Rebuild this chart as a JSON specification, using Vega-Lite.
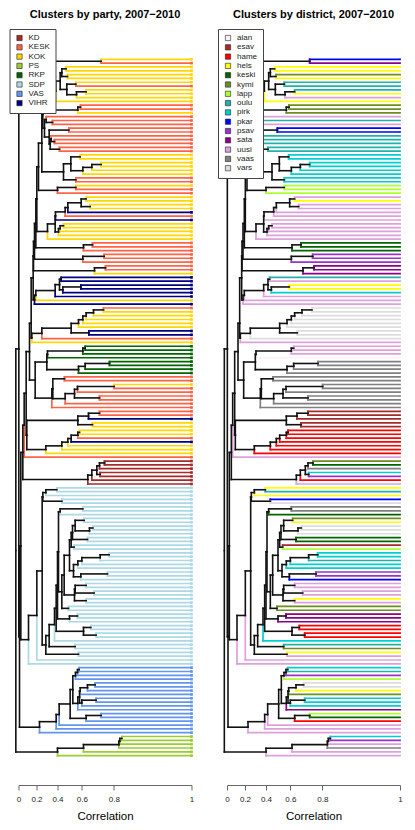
{"$schema":"https://vega.github.io/schema/vega-lite/v6.json","padding":{"left":8.5,"top":8,"right":0,"bottom":0},"background":"white","spacing":22.5,"resolve":{"scale":{"fill":"independent","stroke":"independent"}},
"config":{"view":{"stroke":null},"font":"Liberation Sans","axis":{"labelOverlap":false}},
"datasets":{"leaves":[
{"k":0,"ph":248,"py":0.5,"party":"KOK","district":"pkar"},{"k":1,"ph":248,"py":0.5,"party":"KESK","district":"sata"},
{"k":2,"ph":143,"py":2.5,"party":"KOK","district":"hels"},{"k":3,"ph":143,"py":2.5,"party":"KOK","district":"hels"},
{"k":4,"ph":147,"py":4.5,"party":"KOK","district":"kymi"},{"k":5,"ph":147,"py":4.5,"party":"KOK","district":"hels"},
{"k":6,"ph":172,"py":6.5,"party":"KOK","district":"oulu"},{"k":7,"ph":172,"py":6.5,"party":"KESK","district":"oulu"},
{"k":8,"ph":203,"py":8.5,"party":"KOK","district":"oulu"},{"k":9,"ph":203,"py":8.5,"party":"KOK","district":"hels"},
{"k":10,"ph":174,"py":9.25,"party":"KOK","district":"uusi"},{"k":11,"ph":112,"py":8.34,"party":"KOK","district":"hels"},
{"k":12,"ph":186,"py":12.5,"party":"KESK","district":"kymi"},{"k":13,"ph":186,"py":12.5,"party":"KESK","district":"kymi"},
{"k":14,"ph":178,"py":13.25,"party":"KOK","district":"kymi"},{"k":15,"ph":83,"py":15.75,"party":"KESK","district":"uusi"},
{"k":16,"ph":102,"py":16.5,"party":"KESK","district":"oulu"},{"k":17,"ph":102,"py":16.5,"party":"KESK","district":"uusi"},
{"k":18,"ph":151,"py":18.5,"party":"KESK","district":"pkar"},{"k":19,"ph":151,"py":18.5,"party":"KESK","district":"pkar"},
{"k":20,"ph":98,"py":20.75,"party":"KESK","district":"oulu"},{"k":21,"ph":108,"py":21.5,"party":"KESK","district":"oulu"},
{"k":22,"ph":108,"py":21.5,"party":"KESK","district":"oulu"},{"k":23,"ph":123,"py":23.5,"party":"KESK","district":"oulu"},
{"k":24,"ph":123,"py":23.5,"party":"KESK","district":"oulu"},{"k":25,"ph":185,"py":25.5,"party":"KOK","district":"pirk"},
{"k":26,"ph":185,"py":25.5,"party":"KOK","district":"pirk"},{"k":27,"ph":248,"py":27.5,"party":"KOK","district":"pirk"},
{"k":28,"ph":248,"py":27.5,"party":"KOK","district":"pirk"},{"k":29,"ph":220,"py":28.25,"party":"KOK","district":"pirk"},
{"k":30,"ph":193,"py":29.12,"party":"KOK","district":"pirk"},{"k":31,"ph":172,"py":31.5,"party":"KESK","district":"pirk"},
{"k":32,"ph":172,"py":31.5,"party":"KESK","district":"pirk"},{"k":33,"ph":172,"py":33.5,"party":"KOK","district":"lapp"},
{"k":34,"ph":172,"py":33.5,"party":"KESK","district":"lapp"},{"k":35,"ph":117,"py":34.25,"party":"KESK","district":"lapp"},
{"k":36,"ph":203,"py":36.5,"party":"KOK","district":"uusi"},{"k":37,"ph":203,"py":36.5,"party":"KOK","district":"hels"},
{"k":38,"ph":215,"py":38.5,"party":"KOK","district":"uusi"},{"k":39,"ph":215,"py":38.5,"party":"KOK","district":"uusi"},
{"k":40,"ph":148,"py":38.75,"party":"VIHR","district":"uusi"},{"k":41,"ph":140,"py":39.88,"party":"KESK","district":"uusi"},
{"k":42,"ph":111,"py":40.94,"party":"VIHR","district":"uusi"},{"k":43,"ph":135,"py":43.5,"party":"KOK","district":"uusi"},
{"k":44,"ph":135,"py":43.5,"party":"KOK","district":"uusi"},{"k":45,"ph":125,"py":44.25,"party":"KOK","district":"uusi"},
{"k":46,"ph":120,"py":45.12,"party":"KOK","district":"uusi"},{"k":47,"ph":87,"py":45,"party":"KOK","district":"uusi"},
{"k":48,"ph":222,"py":48.5,"party":"KESK","district":"keski"},{"k":49,"ph":222,"py":48.5,"party":"KESK","district":"keski"},
{"k":50,"ph":195,"py":49.25,"party":"KESK","district":"keski"},{"k":51,"ph":257,"py":51.5,"party":"KESK","district":"psav"},
{"k":52,"ph":257,"py":51.5,"party":"KESK","district":"psav"},{"k":53,"ph":193,"py":52.25,"party":"KESK","district":"psav"},
{"k":54,"ph":261,"py":54.5,"party":"KESK","district":"sata"},{"k":55,"ph":261,"py":54.5,"party":"KESK","district":"sata"},
{"k":56,"ph":228,"py":55.25,"party":"KOK","district":"sata"},{"k":57,"ph":128,"py":57.5,"party":"VIHR","district":"oulu"},
{"k":58,"ph":128,"py":57.5,"party":"VIHR","district":"uusi"},{"k":59,"ph":187,"py":59.5,"party":"VIHR","district":"hels"},
{"k":60,"ph":187,"py":59.5,"party":"VIHR","district":"hels"},{"k":61,"ph":133,"py":60.25,"party":"VIHR","district":"pirk"},
{"k":62,"ph":110,"py":60.44,"party":"VIHR","district":"uusi"},{"k":63,"ph":52,"py":61.7,"party":"KOK","district":"uusi"},
{"k":64,"ph":48,"py":62.86,"party":"VIHR","district":"uusi"},{"k":65,"ph":255,"py":65.5,"party":"KESK","district":"vars"},
{"k":66,"ph":255,"py":65.5,"party":"KOK","district":"vars"},{"k":67,"ph":225,"py":66.25,"party":"KOK","district":"vars"},
{"k":68,"ph":203,"py":67.1,"party":"KOK","district":"vars"},{"k":69,"ph":193,"py":68.06,"party":"KOK","district":"vars"},
{"k":70,"ph":180,"py":69.03,"party":"KOK","district":"vars"},{"k":71,"ph":211,"py":71.5,"party":"VIHR","district":"vars"},
{"k":72,"ph":211,"py":71.5,"party":"VIHR","district":"vars"},{"k":73,"ph":70,"py":71.63,"party":"KESK","district":"vars"},
{"k":74,"ph":40,"py":72.8,"party":"KOK","district":"uusi"},{"k":75,"ph":200,"py":75.5,"party":"RKP","district":"uusi"},
{"k":76,"ph":200,"py":75.5,"party":"RKP","district":"uusi"},{"k":77,"ph":193,"py":76.25,"party":"RKP","district":"uusi"},
{"k":78,"ph":87,"py":77.12,"party":"RKP","district":"alan"},{"k":79,"ph":273,"py":79.5,"party":"RKP","district":"vaas"},
{"k":80,"ph":273,"py":79.5,"party":"RKP","district":"vaas"},{"k":81,"ph":200,"py":80.25,"party":"RKP","district":"vaas"},
{"k":82,"ph":180,"py":81.12,"party":"RKP","district":"vaas"},{"k":83,"ph":138,"py":83.5,"party":"KESK","district":"vaas"},
{"k":84,"ph":138,"py":83.5,"party":"KESK","district":"vaas"},{"k":85,"ph":287,"py":85.5,"party":"KOK","district":"vaas"},
{"k":86,"ph":287,"py":85.5,"party":"KESK","district":"vaas"},{"k":87,"ph":177,"py":86.25,"party":"KESK","district":"vaas"},
{"k":88,"ph":243,"py":88.5,"party":"KESK","district":"vaas"},{"k":89,"ph":243,"py":88.5,"party":"KESK","district":"vaas"},
{"k":90,"ph":140,"py":88.69,"party":"KESK","district":"vaas"},{"k":91,"ph":100,"py":88.55,"party":"KESK","district":"vaas"},
{"k":92,"ph":243,"py":92.5,"party":"KESK","district":"esav"},{"k":93,"ph":243,"py":92.5,"party":"KESK","district":"esav"},
{"k":94,"ph":210,"py":93.25,"party":"VIHR","district":"esav"},{"k":95,"ph":222,"py":95.5,"party":"KOK","district":"esav"},
{"k":96,"ph":222,"py":95.5,"party":"KOK","district":"esav"},{"k":97,"ph":183,"py":97.5,"party":"KOK","district":"hame"},
{"k":98,"ph":183,"py":97.5,"party":"KOK","district":"hame"},{"k":99,"ph":178,"py":98.25,"party":"KESK","district":"hame"},
{"k":100,"ph":158,"py":99.12,"party":"VIHR","district":"hame"},{"k":101,"ph":148,"py":100.06,"party":"KOK","district":"hame"},
{"k":102,"ph":130,"py":101.03,"party":"KOK","district":"hame"},{"k":103,"ph":82,"py":102,"party":"KOK","district":"hame"},
{"k":104,"ph":17,"py":95.65,"party":"KESK","district":"uusi"},{"k":105,"ph":258,"py":105.5,"party":"KD","district":"kymi"},
{"k":106,"ph":258,"py":105.5,"party":"KD","district":"keski"},{"k":107,"ph":243,"py":106.25,"party":"KD","district":"vaas"},
{"k":108,"ph":245,"py":108.5,"party":"KD","district":"pirk"},{"k":109,"ph":245,"py":108.5,"party":"KD","district":"psav"},
{"k":110,"ph":220,"py":108.69,"party":"KD","district":"hame"},{"k":111,"ph":208,"py":109.84,"party":"KD","district":"uusi"},
{"k":112,"ph":115,"py":112.5,"party":"SDP","district":"hels"},{"k":113,"ph":115,"py":112.5,"party":"SDP","district":"oulu"},
{"k":114,"ph":82,"py":113.25,"party":"SDP","district":"hels"},{"k":115,"ph":130,"py":115.5,"party":"SDP","district":"pkar"},
{"k":116,"ph":130,"py":115.5,"party":"SDP","district":"vars"},{"k":117,"ph":193,"py":117.5,"party":"SDP","district":"vaas"},
{"k":118,"ph":193,"py":117.5,"party":"SDP","district":"vaas"},{"k":119,"ph":125,"py":118.25,"party":"SDP","district":"keski"},
{"k":120,"ph":197,"py":120.5,"party":"SDP","district":"kymi"},{"k":121,"ph":197,"py":120.5,"party":"SDP","district":"hels"},
{"k":122,"ph":223,"py":122.5,"party":"SDP","district":"vars"},{"k":123,"ph":223,"py":122.5,"party":"SDP","district":"vars"},
{"k":124,"ph":213,"py":123.25,"party":"SDP","district":"vars"},{"k":125,"ph":207,"py":125.5,"party":"SDP","district":"keski"},
{"k":126,"ph":207,"py":125.5,"party":"SDP","district":"keski"},{"k":127,"ph":167,"py":127.5,"party":"SDP","district":"esav"},
{"k":128,"ph":167,"py":127.5,"party":"SDP","district":"lapp"},{"k":129,"ph":272,"py":129.5,"party":"SDP","district":"pirk"},
{"k":130,"ph":272,"py":129.5,"party":"SDP","district":"pirk"},{"k":131,"ph":245,"py":130.25,"party":"SDP","district":"oulu"},
{"k":132,"ph":190,"py":131.12,"party":"SDP","district":"pirk"},{"k":133,"ph":178,"py":132.06,"party":"SDP","district":"pirk"},
{"k":134,"ph":267,"py":134.5,"party":"SDP","district":"psav"},{"k":135,"ph":267,"py":134.5,"party":"SDP","district":"psav"},
{"k":136,"ph":187,"py":135.25,"party":"SDP","district":"pkar"},{"k":137,"ph":203,"py":137.5,"party":"SDP","district":"uusi"},
{"k":138,"ph":203,"py":137.5,"party":"SDP","district":"uusi"},{"k":139,"ph":227,"py":139.5,"party":"SDP","district":"uusi"},
{"k":140,"ph":227,"py":139.5,"party":"SDP","district":"uusi"},{"k":141,"ph":203,"py":141.5,"party":"SDP","district":"hels"},
{"k":142,"ph":203,"py":141.5,"party":"SDP","district":"uusi"},{"k":143,"ph":150,"py":143.5,"party":"SDP","district":"kymi"},
{"k":144,"ph":150,"py":143.5,"party":"SDP","district":"kymi"},{"k":145,"ph":177,"py":145.5,"party":"SDP","district":"sata"},
{"k":146,"ph":177,"py":145.5,"party":"SDP","district":"sata"},{"k":147,"ph":153,"py":146.25,"party":"SDP","district":"sata"},
{"k":148,"ph":217,"py":148.5,"party":"SDP","district":"hame"},{"k":149,"ph":217,"py":148.5,"party":"SDP","district":"hame"},
{"k":150,"ph":233,"py":150.5,"party":"SDP","district":"hame"},{"k":151,"ph":233,"py":150.5,"party":"SDP","district":"hame"},
{"k":152,"ph":108,"py":147.75,"party":"SDP","district":"pirk"},{"k":153,"ph":170,"py":153.5,"party":"SDP","district":"oulu"},
{"k":154,"ph":170,"py":153.5,"party":"SDP","district":"kymi"},{"k":155,"ph":180,"py":155.5,"party":"SDP","district":"hels"},
{"k":156,"ph":180,"py":155.5,"party":"SDP","district":"uusi"},{"k":157,"ph":55,"py":145.36,"party":"SDP","district":"uusi"},
{"k":158,"ph":30,"py":151.68,"party":"SDP","district":"uusi"},{"k":159,"ph":182,"py":159.5,"party":"VAS","district":"pirk"},
{"k":160,"ph":182,"py":159.5,"party":"VAS","district":"oulu"},{"k":161,"ph":177,"py":160.25,"party":"VAS","district":"psav"},
{"k":162,"ph":171,"py":161.12,"party":"VAS","district":"lapp"},{"k":163,"ph":230,"py":163.5,"party":"VAS","district":"vars"},
{"k":164,"ph":230,"py":163.5,"party":"VAS","district":"vars"},{"k":165,"ph":207,"py":164.25,"party":"VAS","district":"hels"},
{"k":166,"ph":185,"py":165.12,"party":"VAS","district":"kymi"},{"k":167,"ph":233,"py":167.5,"party":"VAS","district":"pirk"},
{"k":168,"ph":233,"py":167.5,"party":"VAS","district":"pirk"},{"k":169,"ph":190,"py":168.25,"party":"VAS","district":"pirk"},
{"k":170,"ph":178,"py":168.34,"party":"VAS","district":"sata"},{"k":171,"ph":248,"py":171.5,"party":"VAS","district":"lapp"},
{"k":172,"ph":248,"py":171.5,"party":"VAS","district":"keski"},{"k":173,"ph":203,"py":172.25,"party":"VAS","district":"hame"},
{"k":174,"ph":122,"py":171.25,"party":"VAS","district":"uusi"},{"k":175,"ph":113,"py":173.12,"party":"VAS","district":"uusi"},
{"k":176,"ph":63,"py":174.56,"party":"VAS","district":"uusi"},{"k":177,"ph":310,"py":177.5,"party":"PS","district":"pirk"},
{"k":178,"ph":310,"py":177.5,"party":"PS","district":"psav"},{"k":179,"ph":304,"py":178.25,"party":"PS","district":"uusi"},
{"k":180,"ph":301,"py":179.12,"party":"PS","district":"vaas"},{"k":181,"ph":195,"py":180.06,"party":"PS","district":"uusi"},
{"k":182,"ph":117,"py":181.03,"party":"PS","district":"uusi"}],
"nodes":[
{"y":0.5,"h":248,"ph":1,"py":75.7},{"y":150.9,"h":3,"ph":1,"py":75.7},{"y":75.7,"h":1,"ph":-8,"py":128.4},{"y":181.03,"h":117,"ph":-8,"py":128.4},
{"y":127.2,"h":7,"ph":3,"py":150.9},{"y":174.56,"h":63,"ph":3,"py":150.9},{"y":102.75,"h":13,"ph":7,"py":127.2},{"y":151.68,"h":30,"ph":7,"py":127.2},
{"y":95.65,"h":17,"ph":13,"py":102.75},{"y":109.84,"h":208,"ph":13,"py":102.75},{"y":87.3,"h":23,"ph":17,"py":95.65},{"y":76.4,"h":33,"ph":23,"py":87.3},
{"y":98.2,"h":25,"ph":23,"py":87.3},{"y":94.38,"h":178,"ph":25,"py":98.2},{"y":102,"h":82,"ph":25,"py":98.2},{"y":69,"h":38,"ph":33,"py":76.4},
{"y":83.83,"h":50,"ph":33,"py":76.4},{"y":57.1,"h":44,"ph":38,"py":69},{"y":72.8,"h":40,"ph":38,"py":69},{"y":79.12,"h":85,"ph":50,"py":83.83},
{"y":88.55,"h":100,"ph":50,"py":83.83},{"y":51.4,"h":45,"ph":44,"py":57.1},{"y":62.86,"h":48,"ph":44,"py":57.1},{"y":47.6,"h":48,"ph":45,"py":51.4},
{"y":55.25,"h":228,"ph":45,"py":51.4},{"y":42.9,"h":52,"ph":48,"py":47.6},{"y":52.25,"h":193,"ph":48,"py":47.6},{"y":36.5,"h":55,"ph":52,"py":42.9},
{"y":49.25,"h":195,"ph":52,"py":42.9},{"y":28.08,"h":60,"ph":55,"py":36.5},{"y":45,"h":87,"ph":55,"py":36.5},{"y":21.91,"h":70,"ph":60,"py":28.08},
{"y":34.25,"h":117,"ph":60,"py":28.08},{"y":14.41,"h":73,"ph":70,"py":21.91},{"y":29.41,"h":135,"ph":70,"py":21.91},{"y":10.8,"h":80,"ph":73,"py":14.41},
{"y":18.03,"h":78,"ph":73,"py":14.41},{"y":8.34,"h":112,"ph":80,"py":10.8},{"y":13.25,"h":178,"ph":80,"py":10.8},{"y":5.69,"h":125,"ph":112,"py":8.34},
{"y":3.5,"h":130,"ph":125,"py":5.69},{"y":7.875,"h":145,"ph":125,"py":5.69},{"y":2.5,"h":143,"ph":130,"py":3.5},{"y":4.5,"h":147,"ph":130,"py":3.5},
{"y":6.5,"h":172,"ph":145,"py":7.875},{"y":9.25,"h":174,"ph":145,"py":7.875},{"y":8.5,"h":203,"ph":174,"py":9.25},{"y":12.5,"h":186,"ph":178,"py":13.25},
{"y":15.75,"h":83,"ph":78,"py":18.03},{"y":20.31,"h":92,"ph":78,"py":18.03},{"y":16.5,"h":102,"ph":83,"py":15.75},{"y":18.5,"h":151,"ph":92,"py":20.31},
{"y":22.12,"h":95,"ph":92,"py":20.31},{"y":20.75,"h":98,"ph":95,"py":22.12},{"y":23.5,"h":123,"ph":95,"py":22.12},{"y":21.5,"h":108,"ph":98,"py":20.75},
{"y":27.31,"h":157,"ph":135,"py":29.41},{"y":31.5,"h":172,"ph":135,"py":29.41},{"y":25.5,"h":185,"ph":157,"py":27.31},{"y":29.12,"h":193,"ph":157,"py":27.31},
{"y":28.25,"h":220,"ph":193,"py":29.12},{"y":27.5,"h":248,"ph":220,"py":28.25},{"y":33.5,"h":172,"ph":117,"py":34.25},{"y":43.03,"h":110,"ph":87,"py":45},
{"y":40.94,"h":111,"ph":110,"py":43.03},{"y":45.12,"h":120,"ph":110,"py":43.03},{"y":39.88,"h":140,"ph":111,"py":40.94},{"y":38.75,"h":148,"ph":140,"py":39.88},
{"y":37.5,"h":188,"ph":148,"py":38.75},{"y":36.5,"h":203,"ph":188,"py":37.5},{"y":38.5,"h":215,"ph":188,"py":37.5},{"y":44.25,"h":125,"ph":120,"py":45.12},
{"y":43.5,"h":135,"ph":125,"py":44.25},{"y":48.5,"h":222,"ph":195,"py":49.25},{"y":51.5,"h":257,"ph":193,"py":52.25},{"y":54.5,"h":261,"ph":228,"py":55.25},
{"y":61.7,"h":52,"ph":48,"py":62.86},{"y":60.44,"h":110,"ph":52,"py":61.7},{"y":58.9,"h":123,"ph":110,"py":60.44},{"y":57.5,"h":128,"ph":123,"py":58.9},
{"y":60.25,"h":133,"ph":123,"py":58.9},{"y":59.5,"h":187,"ph":133,"py":60.25},{"y":71.63,"h":70,"ph":40,"py":72.8},{"y":70.27,"h":158,"ph":70,"py":71.63},
{"y":69.03,"h":180,"ph":158,"py":70.27},{"y":71.5,"h":211,"ph":158,"py":70.27},{"y":68.06,"h":193,"ph":180,"py":69.03},{"y":67.1,"h":203,"ph":193,"py":68.06},
{"y":66.25,"h":225,"ph":203,"py":67.1},{"y":65.5,"h":255,"ph":225,"py":66.25},{"y":77.12,"h":87,"ph":85,"py":79.12},{"y":81.12,"h":180,"ph":85,"py":79.12},
{"y":76.25,"h":193,"ph":87,"py":77.12},{"y":75.5,"h":200,"ph":193,"py":76.25},{"y":80.25,"h":200,"ph":180,"py":81.12},{"y":79.5,"h":273,"ph":200,"py":80.25},
{"y":86.1,"h":103,"ph":100,"py":88.55},{"y":83.5,"h":138,"ph":103,"py":86.1},{"y":88.69,"h":140,"ph":103,"py":86.1},{"y":87.38,"h":168,"ph":140,"py":88.69},
{"y":86.25,"h":177,"ph":168,"py":87.38},{"y":88.5,"h":243,"ph":168,"py":87.38},{"y":85.5,"h":287,"ph":177,"py":86.25},{"y":93.25,"h":210,"ph":178,"py":94.38},
{"y":95.5,"h":222,"ph":178,"py":94.38},{"y":92.5,"h":243,"ph":210,"py":93.25},{"y":101.03,"h":130,"ph":82,"py":102},{"y":100.06,"h":148,"ph":130,"py":101.03},
{"y":99.12,"h":158,"ph":148,"py":100.06},{"y":98.25,"h":178,"ph":158,"py":99.12},{"y":97.5,"h":183,"ph":178,"py":98.25},{"y":108.69,"h":220,"ph":208,"py":109.84},
{"y":107.38,"h":235,"ph":220,"py":108.69},{"y":106.25,"h":243,"ph":235,"py":107.38},{"y":108.5,"h":245,"ph":235,"py":107.38},{"y":105.5,"h":258,"ph":243,"py":106.25},
{"y":145.36,"h":55,"ph":30,"py":151.68},{"y":133.72,"h":71,"ph":55,"py":145.36},{"y":114.38,"h":73,"ph":71,"py":133.72},{"y":153.06,"h":82,"ph":71,"py":133.72},
{"y":113.25,"h":82,"ph":73,"py":114.38},{"y":115.5,"h":130,"ph":73,"py":114.38},{"y":112.5,"h":115,"ph":82,"py":113.25},{"y":150.62,"h":92,"ph":82,"py":153.06},
{"y":155.5,"h":180,"ph":82,"py":153.06},{"y":147.75,"h":108,"ph":92,"py":150.62},{"y":153.5,"h":170,"ph":92,"py":150.62},{"y":143.49,"h":113,"ph":108,"py":147.75},
{"y":137.48,"h":117,"ph":113,"py":143.49},{"y":149.5,"h":195,"ph":113,"py":143.49},{"y":128.7,"h":120,"ph":117,"py":137.48},{"y":146.25,"h":153,"ph":117,"py":137.48},
{"y":118.25,"h":125,"ph":120,"py":128.7},{"y":139.16,"h":130,"ph":120,"py":128.7},{"y":117.5,"h":193,"ph":125,"py":118.25},{"y":134.8,"h":137,"ph":130,"py":139.16},
{"y":143.5,"h":150,"ph":130,"py":139.16},{"y":129.63,"h":153,"ph":137,"py":134.8},{"y":140,"h":168,"ph":137,"py":134.8},{"y":125.6,"h":158,"ph":153,"py":129.63},
{"y":133.66,"h":165,"ph":153,"py":129.63},{"y":123.69,"h":162,"ph":158,"py":125.6},{"y":127.5,"h":167,"ph":158,"py":125.6},{"y":121.88,"h":170,"ph":162,"py":123.69},
{"y":125.5,"h":207,"ph":162,"py":123.69},{"y":120.5,"h":197,"ph":170,"py":121.88},{"y":123.25,"h":213,"ph":170,"py":121.88},{"y":122.5,"h":223,"ph":213,"py":123.25},
{"y":132.06,"h":178,"ph":165,"py":133.66},{"y":135.25,"h":187,"ph":165,"py":133.66},{"y":131.12,"h":190,"ph":178,"py":132.06},{"y":130.25,"h":245,"ph":190,"py":131.12},
{"y":129.5,"h":272,"ph":245,"py":130.25},{"y":134.5,"h":267,"ph":187,"py":135.25},{"y":138.5,"h":170,"ph":168,"py":140},{"y":141.5,"h":203,"ph":168,"py":140},
{"y":137.5,"h":203,"ph":170,"py":138.5},{"y":139.5,"h":227,"ph":170,"py":138.5},{"y":145.5,"h":177,"ph":153,"py":146.25},{"y":148.5,"h":217,"ph":195,"py":149.5},
{"y":150.5,"h":233,"ph":195,"py":149.5},{"y":173.12,"h":113,"ph":63,"py":174.56},{"y":171.25,"h":122,"ph":113,"py":173.12},{"y":168.49,"h":155,"ph":122,"py":171.25},
{"y":164.73,"h":163,"ph":155,"py":168.49},{"y":172.25,"h":203,"ph":155,"py":168.49},{"y":171.5,"h":248,"ph":203,"py":172.25},{"y":161.12,"h":171,"ph":163,"py":164.73},
{"y":168.34,"h":178,"ph":163,"py":164.73},{"y":160.25,"h":177,"ph":171,"py":161.12},{"y":159.5,"h":182,"ph":177,"py":160.25},{"y":166.69,"h":183,"ph":178,"py":168.34},
{"y":165.12,"h":185,"ph":183,"py":166.69},{"y":168.25,"h":190,"ph":183,"py":166.69},{"y":164.25,"h":207,"ph":185,"py":165.12},{"y":163.5,"h":230,"ph":207,"py":164.25},
{"y":167.5,"h":233,"ph":190,"py":168.25},{"y":180.06,"h":195,"ph":117,"py":181.03},{"y":179.12,"h":301,"ph":195,"py":180.06},{"y":178.25,"h":304,"ph":301,"py":179.12},
{"y":177.5,"h":310,"ph":304,"py":178.25}]},
"hconcat":[
{"width":173,"height":753,"title":{"text":"Clusters by party, 2007−2010","fontSize":11,"fontWeight":"bold","font":"Liberation Sans","anchor":"middle","offset":9,"color":"black"},
"layer":[
{"data":{"name":"leaves"},"mark":{"type":"rule","strokeWidth":1.7,"strokeCap":"square"},"encoding":{"x":{"field":"ph","type":"quantitative","scale":{"domain":[0,519],"nice":false,"zero":false},"axis":{"values":[0,54,117,190,286,519],"tickCount":10,"labelExpr":"format(1-pow(1-datum.value/519,2),'.1~f')","title":"Correlation","titleFont":"Liberation Sans","titleFontSize":11.5,"titleFontWeight":"normal","titleColor":"black","titlePadding":7,"labelFont":"Liberation Sans","labelFontSize":8,"labelColor":"#222","labelPadding":5,"tickSize":5,"tickColor":"#666","domainColor":"#666","labelFlush":false,"grid":false,"labelOverlap":false}},"x2":{"datum":519},"y":{"field":"k","type":"quantitative","scale":{"domain":[189.67,-7.135],"nice":false,"zero":false},"axis":null},"stroke":{"field":"party","type":"nominal","legend":null,"scale":{"domain":["VIHR","VAS","SDP","RKP","PS","KOK","KESK","KD"],"range":["#000080","#6495ED","#ADD8E6","#006400","#9ACD32","#FFD700","#FF6347","#A52A2A"]}}}},
{"data":{"name":"leaves"},"mark":{"type":"rule","strokeWidth":1.7,"strokeCap":"square"},"encoding":{"x":{"field":"ph","type":"quantitative"},"y":{"field":"k","type":"quantitative"},"y2":{"field":"py"},"stroke":{"field":"party","type":"nominal","legend":null}}},
{"data":{"name":"nodes"},"mark":{"type":"rule","strokeWidth":1.6,"strokeCap":"square","color":"#111"},"encoding":{"x":{"field":"h","type":"quantitative"},"x2":{"field":"ph"},"y":{"field":"y","type":"quantitative"}}},
{"data":{"name":"nodes"},"mark":{"type":"rule","strokeWidth":1.6,"strokeCap":"square","color":"#111"},"encoding":{"x":{"field":"ph","type":"quantitative"},"y":{"field":"y","type":"quantitative"},"y2":{"field":"py"}}},
{"data":{"name":"leaves"},"mark":{"type":"square","size":7,"opacity":1},"encoding":{"x":{"datum":519,"type":"quantitative"},"y":{"field":"k","type":"quantitative"},"fill":{"field":"party","type":"nominal","scale":{"domain":["KD","KESK","KOK","PS","RKP","SDP","VAS","VIHR"],"range":["#A52A2A","#FF6347","#FFD700","#9ACD32","#006400","#ADD8E6","#6495ED","#000080"]},"legend":{"orient":"none","legendX":-9,"legendY":-3,"zindex":1,"title":null,"fillColor":"white","strokeColor":"#444","padding":5,"symbolType":"square","symbolSize":28,"symbolStrokeColor":"#222","symbolStrokeWidth":0.6,"labelFont":"Liberation Sans","labelFontSize":8,"labelColor":"#222","labelOffset":5,"rowPadding":1.3,"symbolOffset":1,"labelLimit":60}}}}
]},
{"width":173,"height":753,"title":{"text":"Clusters by district, 2007−2010","fontSize":11,"fontWeight":"bold","font":"Liberation Sans","anchor":"middle","offset":9,"color":"black"},
"layer":[
{"data":{"name":"leaves"},"mark":{"type":"rule","strokeWidth":1.7,"strokeCap":"square"},"encoding":{"x":{"field":"ph","type":"quantitative","scale":{"domain":[0,519],"nice":false,"zero":false},"axis":{"values":[0,54,117,190,286,519],"tickCount":10,"labelExpr":"format(1-pow(1-datum.value/519,2),'.1~f')","title":"Correlation","titleFont":"Liberation Sans","titleFontSize":11.5,"titleFontWeight":"normal","titleColor":"black","titlePadding":7,"labelFont":"Liberation Sans","labelFontSize":8,"labelColor":"#222","labelPadding":5,"tickSize":5,"tickColor":"#666","domainColor":"#666","labelFlush":false,"grid":false,"labelOverlap":false}},"x2":{"datum":519},"y":{"field":"k","type":"quantitative","scale":{"domain":[189.67,-7.135],"nice":false,"zero":false},"axis":null},"stroke":{"field":"district","type":"nominal","legend":null,"scale":{"domain":["vars","vaas","uusi","sata","psav","pkar","pirk","oulu","lapp","kymi","keski","hels","hame","esav","alan"],"range":["#DCDCDC","#808080","#DDA0DD","#8B008B","#9932CC","#0000FF","#00CED1","#20B2AA","#ADFF2F","#6B8E23","#006400","#FFFF00","#FF0000","#A52A2A","#FFF0F5"]}}}},
{"data":{"name":"leaves"},"mark":{"type":"rule","strokeWidth":1.7,"strokeCap":"square"},"encoding":{"x":{"field":"ph","type":"quantitative"},"y":{"field":"k","type":"quantitative"},"y2":{"field":"py"},"stroke":{"field":"district","type":"nominal","legend":null}}},
{"data":{"name":"nodes"},"mark":{"type":"rule","strokeWidth":1.6,"strokeCap":"square","color":"#111"},"encoding":{"x":{"field":"h","type":"quantitative"},"x2":{"field":"ph"},"y":{"field":"y","type":"quantitative"}}},
{"data":{"name":"nodes"},"mark":{"type":"rule","strokeWidth":1.6,"strokeCap":"square","color":"#111"},"encoding":{"x":{"field":"ph","type":"quantitative"},"y":{"field":"y","type":"quantitative"},"y2":{"field":"py"}}},
{"data":{"name":"leaves"},"mark":{"type":"square","size":1,"opacity":1},"encoding":{"x":{"datum":519,"type":"quantitative"},"y":{"field":"k","type":"quantitative"},"fill":{"field":"district","type":"nominal","scale":{"domain":["alan","esav","hame","hels","keski","kymi","lapp","oulu","pirk","pkar","psav","sata","uusi","vaas","vars"],"range":["#FFF0F5","#A52A2A","#FF0000","#FFFF00","#006400","#6B8E23","#ADFF2F","#20B2AA","#00CED1","#0000FF","#9932CC","#8B008B","#DDA0DD","#808080","#DCDCDC"]},"legend":{"orient":"none","legendX":-9,"legendY":-3,"zindex":1,"title":null,"fillColor":"white","strokeColor":"#444","padding":5,"symbolType":"square","symbolSize":28,"symbolStrokeColor":"#222","symbolStrokeWidth":0.6,"labelFont":"Liberation Sans","labelFontSize":8,"labelColor":"#222","labelOffset":5,"rowPadding":1.3,"symbolOffset":1,"labelLimit":60}}}}
]}
]}
